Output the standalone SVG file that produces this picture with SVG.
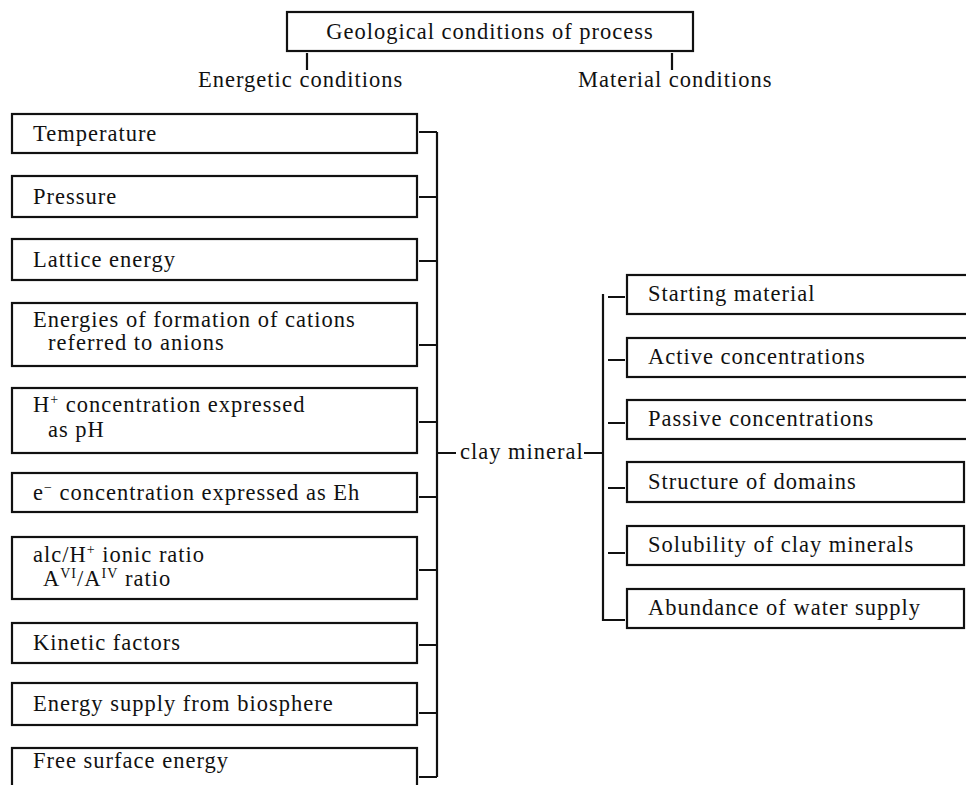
<svg xmlns="http://www.w3.org/2000/svg" width="966" height="785" viewBox="0 0 966 785">
<style>
  .box { fill: none; stroke: #111; stroke-width: 2.2; }
  .ln { fill: none; stroke: #111; stroke-width: 2.2; }
  text { font-family: "Liberation Serif", "Times New Roman", serif; font-size: 22.5px; fill: #111; letter-spacing: 1px; }
  .sup { font-size: 14px; }
</style>
<rect width="966" height="785" fill="#fff"/>

<g id="root">
  <rect class="box" x="287" y="12" width="406" height="39"/>
  <text x="490" y="39" text-anchor="middle">Geological conditions of process</text>
</g>
<g id="energetic">
  <text x="198" y="87">Energetic conditions</text>
</g>
<g id="material">
  <text x="578" y="87">Material conditions</text>
</g>

<g id="temperature">
  <rect class="box" x="12" y="114" width="405" height="39"/>
  <text x="33" y="141">Temperature</text>
</g>
<g id="pressure">
  <rect class="box" x="12" y="176" width="405" height="41"/>
  <text x="33" y="204">Pressure</text>
</g>
<g id="lattice">
  <rect class="box" x="12" y="239" width="405" height="41"/>
  <text x="33" y="267">Lattice energy</text>
</g>
<g id="energies">
  <rect class="box" x="12" y="303" width="405" height="63"/>
  <text x="33" y="327">Energies of formation of cations</text>
  <text x="48" y="350">referred to anions</text>
</g>
<g id="hplus">
  <rect class="box" x="12" y="388" width="405" height="65"/>
  <text x="33" y="412">H<tspan class="sup" dy="-8">+</tspan><tspan dy="8"> concentration expressed</tspan></text>
  <text x="48" y="437">as pH</text>
</g>
<g id="eminus">
  <rect class="box" x="12" y="473" width="405" height="39"/>
  <text x="33" y="500">e<tspan class="sup" dy="-8">−</tspan><tspan dy="8"> concentration expressed as Eh</tspan></text>
</g>
<g id="alc">
  <rect class="box" x="12" y="537" width="405" height="62"/>
  <text x="33" y="562">alc/H<tspan class="sup" dy="-8">+</tspan><tspan dy="8"> ionic ratio</tspan></text>
  <text x="43" y="586">A<tspan class="sup" dy="-8">VI</tspan><tspan dy="8">/A</tspan><tspan class="sup" dy="-8">IV</tspan><tspan dy="8"> ratio</tspan></text>
</g>
<g id="kinetic">
  <rect class="box" x="12" y="623" width="405" height="40"/>
  <text x="33" y="650">Kinetic factors</text>
</g>
<g id="biosphere">
  <rect class="box" x="12" y="683" width="405" height="42"/>
  <text x="33" y="711">Energy supply from biosphere</text>
</g>
<g id="surface">
  <rect class="box" x="12" y="748" width="405" height="45"/>
  <text x="33" y="768">Free surface energy</text>
</g>

<g id="clay">
  <text x="460" y="459">clay  mineral</text>
</g>

<g id="starting">
  <rect class="box" x="627" y="275" width="345" height="39"/>
  <text x="648" y="301">Starting material</text>
</g>
<g id="active">
  <rect class="box" x="627" y="338" width="345" height="39"/>
  <text x="648" y="364">Active concentrations</text>
</g>
<g id="passive">
  <rect class="box" x="627" y="400" width="345" height="39"/>
  <text x="648" y="426">Passive concentrations</text>
</g>
<g id="structure">
  <rect class="box" x="627" y="462" width="337" height="40"/>
  <text x="648" y="489">Structure of domains</text>
</g>
<g id="solubility">
  <rect class="box" x="627" y="526" width="337" height="39"/>
  <text x="648" y="552">Solubility of clay minerals</text>
</g>
<g id="abundance">
  <rect class="box" x="627" y="589" width="337" height="39"/>
  <text x="648" y="615">Abundance of water supply</text>
</g>

<g id="connectors">
  <path class="ln" d="M307 53 V70 M672 53 V70"/>
  <path class="ln" d="M437 132 V777"/>
  <path class="ln" d="M419 132 H437 M419 197 H437 M419 261 H437 M419 345 H437 M419 422 H437 M419 497 H437 M419 570 H437 M419 645 H437 M419 713 H437 M419 777 H437"/>
  <path class="ln" d="M437 453 H456 M584 453 H603"/>
  <path class="ln" d="M603 294 V621"/>
  <path class="ln" d="M608 297 H625 M608 360 H625 M608 423 H625 M608 488 H625 M608 553 H625 M603 620 H625"/>
</g>
</svg>
